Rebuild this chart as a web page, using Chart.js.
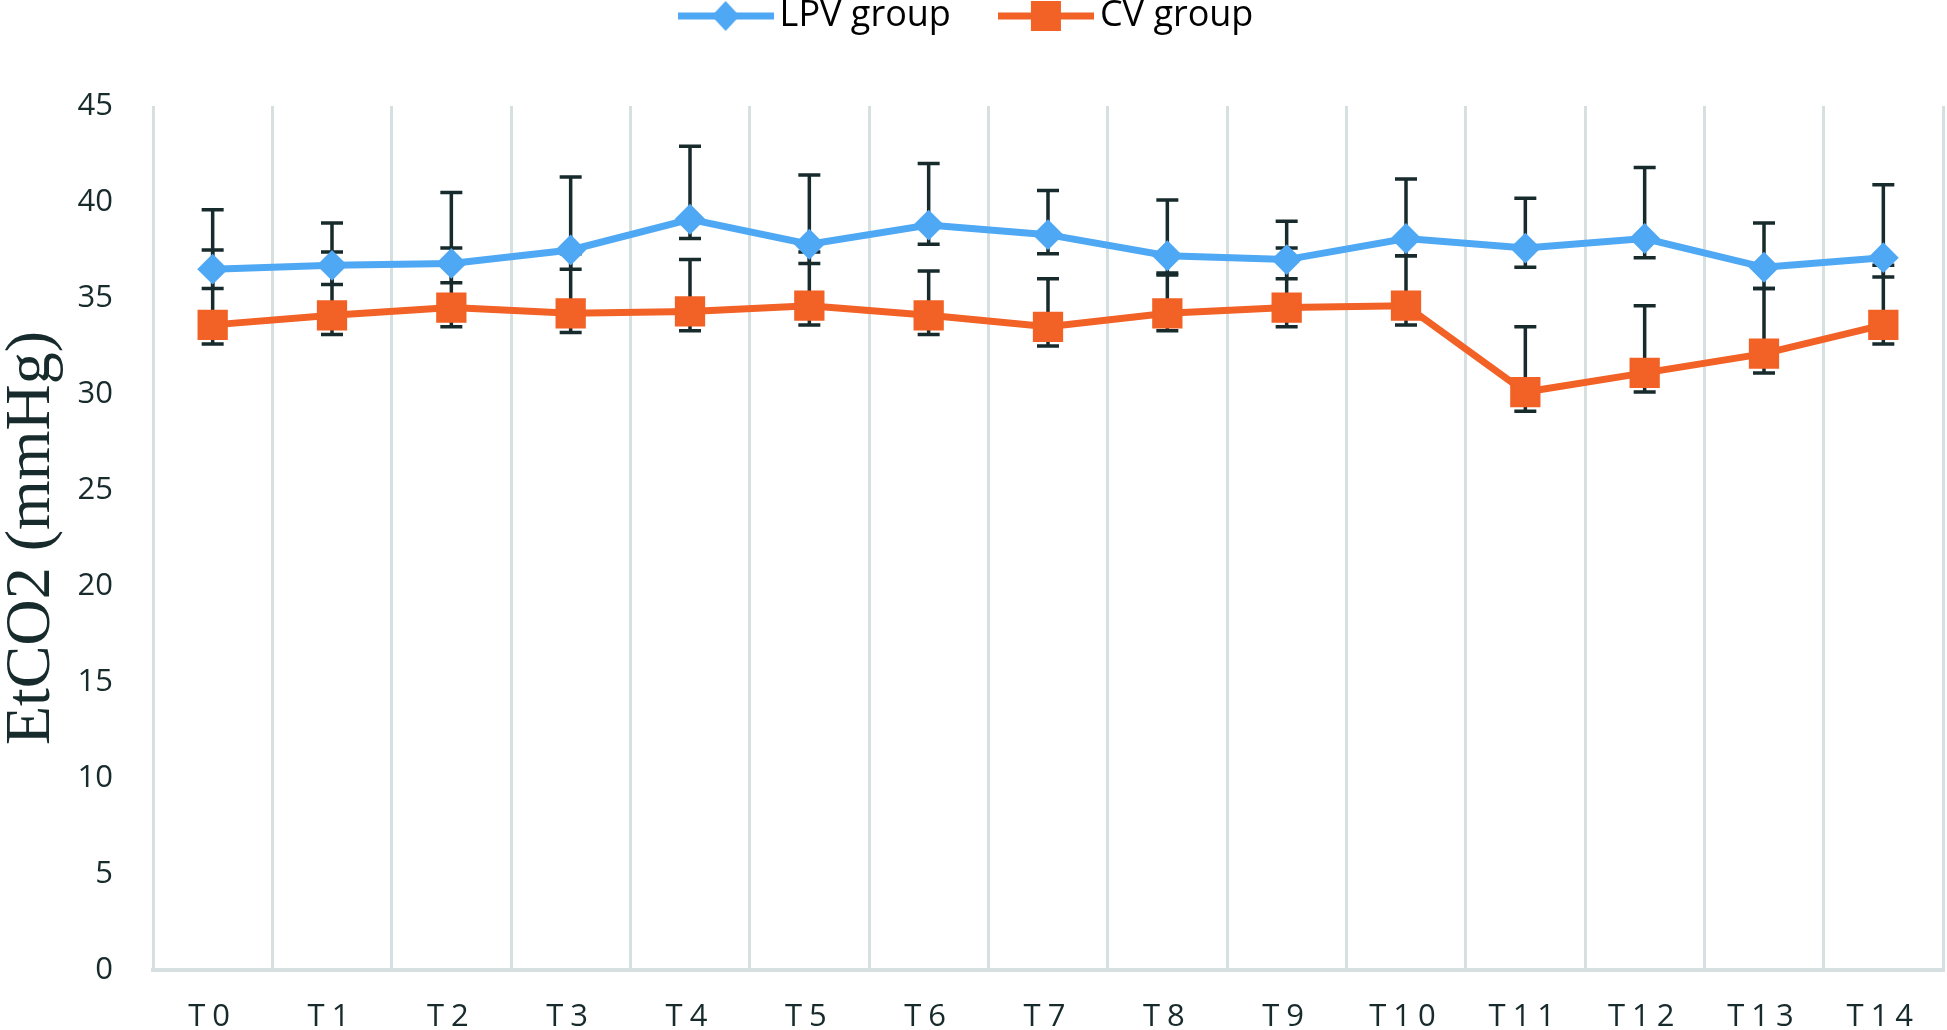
<!DOCTYPE html>
<html>
<head>
<meta charset="utf-8">
<title>EtCO2 LPV vs CV</title>
<script src="https://cdn.jsdelivr.net/npm/chart.js@4.4.1/dist/chart.umd.min.js"></script>
<style>
  html, body { margin: 0; padding: 0; background: #fff; }
  #wrap { width: 1947px; height: 1030px; }
</style>
</head>
<body>
<div id="wrap"><canvas id="chart" width="1947" height="1030"></canvas></div>
<script>
// time points and values
const timePoints = ['T0', 'T1', 'T2', 'T3', 'T4', 'T5', 'T6', 'T7', 'T8', 'T9', 'T10', 'T11', 'T12', 'T13', 'T14'];
const yTicks = [0, 5, 10, 15, 20, 25, 30, 35, 40, 45];

const lpvMean = [36.5, 36.7, 36.8, 37.5, 39.1, 37.8, 38.8, 38.3, 37.2, 37.0, 38.1, 37.6, 38.1, 36.6, 37.1];
const lpvErrUp = [3.1, 2.2, 3.7, 3.8, 3.8, 3.6, 3.2, 2.3, 2.9, 2.0, 3.1, 2.6, 3.7, 2.3, 3.8];
const lpvErrDown = [1.0, 1.0, 1.0, 1.0, 1.0, 1.0, 1.0, 1.0, 1.0, 1.0, 0.9, 1.0, 1.0, 1.1, 1.0];

const cvMean = [33.6, 34.1, 34.5, 34.2, 34.3, 34.6, 34.1, 33.5, 34.2, 34.5, 34.6, 30.1, 31.1, 32.1, 33.6];
const cvErrUp = [3.9, 3.3, 3.1, 3.1, 2.7, 2.8, 2.3, 2.5, 2.1, 3.1, 2.6, 3.4, 3.5, 3.4, 3.1];
const cvErrDown = [1.0, 1.0, 1.0, 1.0, 1.0, 1.0, 1.0, 1.0, 0.9, 1.0, 1.0, 1.0, 1.0, 1.0, 1.0];

const BLUE = '#4fa8f4';
const ORANGE = '#f26125';
const INK = '#172a2c';
const GRID = '#d6e0e0';

// line + marker swatch for the legend
function swatch(color, shape) {
  const c = document.createElement('canvas');
  c.width = 96; c.height = 40;
  const g = c.getContext('2d');
  g.strokeStyle = color;
  g.fillStyle = color;
  g.lineWidth = 7;
  g.beginPath(); g.moveTo(0, 20); g.lineTo(96, 20); g.stroke();
  g.beginPath();
  if (shape === 'diamond') {
    g.moveTo(48, 5); g.lineTo(62, 20); g.lineTo(48, 35); g.lineTo(34, 20);
  } else {
    g.rect(33, 5, 30, 30);
  }
  g.closePath();
  g.fill();
  return c;
}
const swatches = [swatch(BLUE, 'diamond'), swatch(ORANGE, 'square')];

// mean + error bars, drawn under the lines
const errorBars = {
  id: 'errorBars',
  beforeDatasetsDraw(chart) {
    const { ctx, scales: { x, y } } = chart;
    ctx.save();
    ctx.strokeStyle = INK;
    ctx.lineWidth = 3.5;
    chart.data.datasets.forEach((ds, di) => {
      if (!chart.isDatasetVisible(di)) return;
      ds.data.forEach((v, i) => {
        const px = x.getPixelForValue(i);
        const top = y.getPixelForValue(v + ds.errUp[i]);
        const bot = y.getPixelForValue(v - ds.errDown[i]);
        ctx.beginPath();
        ctx.moveTo(px, top); ctx.lineTo(px, bot);
        ctx.moveTo(px - 11, top); ctx.lineTo(px + 11, top);
        ctx.moveTo(px - 11, bot); ctx.lineTo(px + 11, bot);
        ctx.stroke();
      });
    });
    ctx.restore();
  }
};

// the x labels are letter-spaced in the original
const spacedXLabels = {
  id: 'spacedXLabels',
  beforeDraw(chart) {
    const xs = chart.scales.x;
    if (xs._spaced) return;
    const orig = xs.drawLabels;
    xs.drawLabels = function (area) {
      this.ctx.save();
      this.ctx.letterSpacing = '7px';
      orig.call(this, area);
      this.ctx.restore();
    };
    xs._spaced = true;
  }
};

new Chart(document.getElementById('chart'), {
  type: 'line',
  data: {
    labels: timePoints,
    datasets: [
      {
        label: 'LPV group',
        data: lpvMean,
        errUp: lpvErrUp,
        errDown: lpvErrDown,
        borderColor: BLUE,
        backgroundColor: BLUE,
        borderWidth: 7,
        pointStyle: 'rectRot',
        pointRadius: 14,
        pointBorderWidth: 2,
        tension: 0,
      },
      {
        label: 'CV group',
        data: cvMean,
        errUp: cvErrUp,
        errDown: cvErrDown,
        borderColor: ORANGE,
        backgroundColor: ORANGE,
        borderWidth: 7,
        pointStyle: 'rect',
        pointRadius: 20,
        pointBorderWidth: 2,
        tension: 0,
      },
    ],
  },
  options: {
    responsive: false,
    animation: false,
    devicePixelRatio: 1,
    layout: { autoPadding: false, padding: { top: -61, right: 4, left: 0, bottom: 0 } },
    plugins: {
      tooltip: { enabled: false },
      legend: {
        position: 'top',
        align: 'center',
        labels: {
          usePointStyle: true,
          pointStyleWidth: 72,
          padding: 59,
          color: INK,
          font: { family: 'Open Sans', size: 36 },
          generateLabels: chart => chart.data.datasets.map((ds, i) => ({
            text: ds.label,
            pointStyle: swatches[i],
            fillStyle: ds.borderColor,
            strokeStyle: ds.borderColor,
            lineWidth: 0,
            hidden: !chart.isDatasetVisible(i),
            datasetIndex: i,
          })),
        },
      },
    },
    scales: {
      x: {
        offset: true,
        grid: { display: true, offset: true, drawTicks: false, color: GRID, lineWidth: 3 },
        border: { display: true, color: GRID, width: 4 },
        ticks: {
          autoSkip: false, maxRotation: 0, padding: 29,
          color: INK, font: { family: 'Open Sans', size: 31 },
        },
        afterFit: s => { s.height = 60; s.paddingLeft = 0; s.paddingRight = 0; },
      },
      // empty top axis: keeps the gap between the legend and the plot
      xTop: {
        type: 'category',
        position: 'top',
        grid: { display: false },
        border: { display: false },
        ticks: { display: false },
        afterFit: s => { s.height = 62; s.paddingLeft = 0; s.paddingRight = 0; },
      },
      y: {
        min: yTicks[0],
        max: yTicks[yTicks.length - 1],
        grid: { display: false },
        border: { display: false },
        ticks: {
          stepSize: yTicks[1] - yTicks[0],
          padding: 32,
          color: INK,
          font: { family: 'Open Sans', size: 31 },
        },
        title: {
          display: true,
          text: 'EtCO2 (mmHg)',
          color: INK,
          font: { family: 'Liberation Serif', size: 64, lineHeight: 1 },
          padding: { top: 0, bottom: 12 },
        },
        afterFit: s => { s.width = 153; },
      },
    },
  },
  plugins: [errorBars, spacedXLabels],
});
</script>
</body>
</html>
